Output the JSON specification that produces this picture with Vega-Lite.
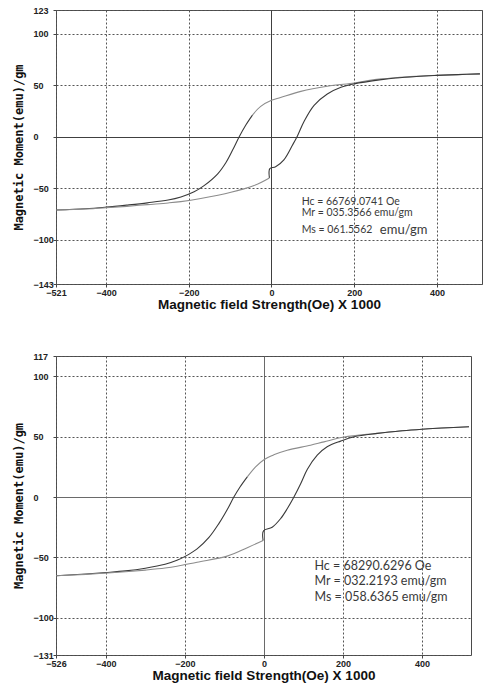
{
  "$schema": "https://vega.github.io/schema/vega-lite/v6.json",
  "background": "white",
  "padding": {"left": 11, "top": 5, "right": 4, "bottom": 2},
  "spacing": 40,
  "config": {
    "view": {"stroke": "#4a4a4a", "strokeWidth": 1},
    "axis": {
      "domain": false,
      "labelFont": "Liberation Sans",
      "labelFontWeight": "bold",
      "labelFontSize": 9,
      "labelColor": "#222222",
      "labelOverlap": false,
      "labelFlush": false,
      "tickColor": "#444444",
      "tickSize": 3,
      "gridOpacity": 1,
      "gridWidth": 1,
      "titleColor": "#111111",
      "titleFontWeight": "bold"
    },
    "axisX": {"titleFont": "Liberation Sans", "titleFontSize": 13.5, "titlePadding": 0, "labelPadding": 1},
    "axisY": {"titleFont": "DejaVu Sans Mono", "titleFontSize": 12, "titlePadding": 8, "labelAlign": "left", "labelPadding": 20}
  },
  "datasets": {
    "p1": [
      {"seg": "U1", "tone": "light", "ord": 1, "H": 504, "M": 61.0},
      {"seg": "U1", "tone": "light", "ord": 2, "H": 450, "M": 60.3},
      {"seg": "U1", "tone": "light", "ord": 3, "H": 400, "M": 59.6},
      {"seg": "U1", "tone": "light", "ord": 4, "H": 350, "M": 58.6},
      {"seg": "U1", "tone": "light", "ord": 5, "H": 300, "M": 57.3},
      {"seg": "U1", "tone": "light", "ord": 6, "H": 266, "M": 56.1},
      {"seg": "U1", "tone": "light", "ord": 7, "H": 230, "M": 54.2},
      {"seg": "U1", "tone": "light", "ord": 8, "H": 200, "M": 52.2},
      {"seg": "U1", "tone": "light", "ord": 9, "H": 135, "M": 49.0},
      {"seg": "U1", "tone": "light", "ord": 10, "H": 71, "M": 44.0},
      {"seg": "U1", "tone": "light", "ord": 11, "H": 22, "M": 38.0},
      {"seg": "U1", "tone": "light", "ord": 12, "H": 0, "M": 35.3},
      {"seg": "U1", "tone": "light", "ord": 13, "H": -26, "M": 29.4},
      {"seg": "U1", "tone": "light", "ord": 14, "H": -46, "M": 21.0},
      {"seg": "U2", "tone": "dark", "ord": 1, "H": -46, "M": 21.0},
      {"seg": "U2", "tone": "dark", "ord": 2, "H": -62, "M": 11.4},
      {"seg": "U2", "tone": "dark", "ord": 3, "H": -78, "M": 0},
      {"seg": "U2", "tone": "dark", "ord": 4, "H": -94, "M": -13},
      {"seg": "U2", "tone": "dark", "ord": 5, "H": -110, "M": -25},
      {"seg": "U2", "tone": "dark", "ord": 6, "H": -130, "M": -36},
      {"seg": "U2", "tone": "dark", "ord": 7, "H": -163, "M": -47.5},
      {"seg": "U2", "tone": "dark", "ord": 8, "H": -187, "M": -53.5},
      {"seg": "U2", "tone": "dark", "ord": 9, "H": -219, "M": -58.5},
      {"seg": "U2", "tone": "dark", "ord": 10, "H": -250, "M": -61.5},
      {"seg": "U2", "tone": "dark", "ord": 11, "H": -300, "M": -64.2},
      {"seg": "U2", "tone": "dark", "ord": 12, "H": -350, "M": -66.4},
      {"seg": "U2", "tone": "dark", "ord": 13, "H": -400, "M": -68.4},
      {"seg": "U2", "tone": "dark", "ord": 14, "H": -450, "M": -70},
      {"seg": "U2", "tone": "dark", "ord": 15, "H": -521, "M": -71.2},
      {"seg": "L1", "tone": "light", "ord": 1, "H": -521, "M": -71.2},
      {"seg": "L1", "tone": "light", "ord": 2, "H": -450, "M": -70.2},
      {"seg": "L1", "tone": "light", "ord": 3, "H": -400, "M": -69.0},
      {"seg": "L1", "tone": "light", "ord": 4, "H": -350, "M": -67.6},
      {"seg": "L1", "tone": "light", "ord": 5, "H": -300, "M": -65.9},
      {"seg": "L1", "tone": "light", "ord": 6, "H": -250, "M": -64.3},
      {"seg": "L1", "tone": "light", "ord": 7, "H": -219, "M": -63.0},
      {"seg": "L1", "tone": "light", "ord": 8, "H": -171, "M": -60.0},
      {"seg": "L1", "tone": "light", "ord": 9, "H": -98, "M": -54.0},
      {"seg": "L1", "tone": "light", "ord": 10, "H": -42, "M": -47.4},
      {"seg": "L1", "tone": "light", "ord": 11, "H": -5, "M": -40.0},
      {"seg": "L2", "tone": "dark", "ord": 1, "H": -5, "M": -40.0},
      {"seg": "L2", "tone": "dark", "ord": 2, "H": -4, "M": -31},
      {"seg": "L2", "tone": "dark", "ord": 3, "H": 10, "M": -29.2},
      {"seg": "L2", "tone": "dark", "ord": 4, "H": 30, "M": -22.5},
      {"seg": "L2", "tone": "dark", "ord": 5, "H": 51, "M": -8},
      {"seg": "L2", "tone": "dark", "ord": 6, "H": 63, "M": 1},
      {"seg": "L2", "tone": "dark", "ord": 7, "H": 79, "M": 15},
      {"seg": "L2", "tone": "dark", "ord": 8, "H": 103, "M": 30.5},
      {"seg": "L2", "tone": "dark", "ord": 9, "H": 135, "M": 41.5},
      {"seg": "L2", "tone": "dark", "ord": 10, "H": 168, "M": 48},
      {"seg": "L2", "tone": "dark", "ord": 11, "H": 200, "M": 51.3},
      {"seg": "L2", "tone": "dark", "ord": 12, "H": 266, "M": 55.4},
      {"seg": "L2", "tone": "dark", "ord": 13, "H": 300, "M": 57.0},
      {"seg": "L2", "tone": "dark", "ord": 14, "H": 350, "M": 58.5},
      {"seg": "L2", "tone": "dark", "ord": 15, "H": 400, "M": 59.5},
      {"seg": "L2", "tone": "dark", "ord": 16, "H": 450, "M": 60.3},
      {"seg": "L2", "tone": "dark", "ord": 17, "H": 504, "M": 61.0}
    ],
    "p2": [
      {"seg": "U1", "tone": "light", "ord": 1, "H": 519, "M": 58.3},
      {"seg": "U1", "tone": "light", "ord": 2, "H": 450, "M": 57.3},
      {"seg": "U1", "tone": "light", "ord": 3, "H": 400, "M": 56.3},
      {"seg": "U1", "tone": "light", "ord": 4, "H": 350, "M": 55.0},
      {"seg": "U1", "tone": "light", "ord": 5, "H": 287, "M": 52.8},
      {"seg": "U1", "tone": "light", "ord": 6, "H": 203, "M": 49.8},
      {"seg": "U1", "tone": "light", "ord": 7, "H": 152, "M": 45.8},
      {"seg": "U1", "tone": "light", "ord": 8, "H": 118, "M": 43.0},
      {"seg": "U1", "tone": "light", "ord": 9, "H": 59, "M": 38.8},
      {"seg": "U1", "tone": "light", "ord": 10, "H": 25, "M": 35.0},
      {"seg": "U1", "tone": "light", "ord": 11, "H": 0, "M": 31.0},
      {"seg": "U1", "tone": "light", "ord": 12, "H": -21, "M": 25.0},
      {"seg": "U1", "tone": "light", "ord": 13, "H": -42, "M": 16.7},
      {"seg": "U2", "tone": "dark", "ord": 1, "H": -42, "M": 16.7},
      {"seg": "U2", "tone": "dark", "ord": 2, "H": -60, "M": 8.5},
      {"seg": "U2", "tone": "dark", "ord": 3, "H": -76, "M": 0},
      {"seg": "U2", "tone": "dark", "ord": 4, "H": -93, "M": -10.5},
      {"seg": "U2", "tone": "dark", "ord": 5, "H": -114, "M": -22.0},
      {"seg": "U2", "tone": "dark", "ord": 6, "H": -139, "M": -33.5},
      {"seg": "U2", "tone": "dark", "ord": 7, "H": -169, "M": -43.0},
      {"seg": "U2", "tone": "dark", "ord": 8, "H": -198, "M": -49.0},
      {"seg": "U2", "tone": "dark", "ord": 9, "H": -220, "M": -52.5},
      {"seg": "U2", "tone": "dark", "ord": 10, "H": -250, "M": -55.8},
      {"seg": "U2", "tone": "dark", "ord": 11, "H": -300, "M": -59.0},
      {"seg": "U2", "tone": "dark", "ord": 12, "H": -350, "M": -61.2},
      {"seg": "U2", "tone": "dark", "ord": 13, "H": -400, "M": -62.6},
      {"seg": "U2", "tone": "dark", "ord": 14, "H": -450, "M": -63.8},
      {"seg": "U2", "tone": "dark", "ord": 15, "H": -526, "M": -65.3},
      {"seg": "L1", "tone": "light", "ord": 1, "H": -526, "M": -65.3},
      {"seg": "L1", "tone": "light", "ord": 2, "H": -450, "M": -64.1},
      {"seg": "L1", "tone": "light", "ord": 3, "H": -400, "M": -63.1},
      {"seg": "L1", "tone": "light", "ord": 4, "H": -350, "M": -62.0},
      {"seg": "L1", "tone": "light", "ord": 5, "H": -300, "M": -60.6},
      {"seg": "L1", "tone": "light", "ord": 6, "H": -250, "M": -58.9},
      {"seg": "L1", "tone": "light", "ord": 7, "H": -220, "M": -57.4},
      {"seg": "L1", "tone": "light", "ord": 8, "H": -169, "M": -54.0},
      {"seg": "L1", "tone": "light", "ord": 9, "H": -93, "M": -49.0},
      {"seg": "L1", "tone": "light", "ord": 10, "H": -42, "M": -42.0},
      {"seg": "L1", "tone": "light", "ord": 11, "H": -2, "M": -36.0},
      {"seg": "L2", "tone": "dark", "ord": 1, "H": -2, "M": -36.0},
      {"seg": "L2", "tone": "dark", "ord": 2, "H": -1, "M": -28.0},
      {"seg": "L2", "tone": "dark", "ord": 3, "H": 21, "M": -25.0},
      {"seg": "L2", "tone": "dark", "ord": 4, "H": 42, "M": -18.0},
      {"seg": "L2", "tone": "dark", "ord": 5, "H": 59, "M": -9.7},
      {"seg": "L2", "tone": "dark", "ord": 6, "H": 76, "M": 0},
      {"seg": "L2", "tone": "dark", "ord": 7, "H": 93, "M": 11.0},
      {"seg": "L2", "tone": "dark", "ord": 8, "H": 110, "M": 23.0},
      {"seg": "L2", "tone": "dark", "ord": 9, "H": 135, "M": 34.7},
      {"seg": "L2", "tone": "dark", "ord": 10, "H": 160, "M": 41.7},
      {"seg": "L2", "tone": "dark", "ord": 11, "H": 194, "M": 46.4},
      {"seg": "L2", "tone": "dark", "ord": 12, "H": 228, "M": 50.0},
      {"seg": "L2", "tone": "dark", "ord": 13, "H": 287, "M": 52.8},
      {"seg": "L2", "tone": "dark", "ord": 14, "H": 350, "M": 55.0},
      {"seg": "L2", "tone": "dark", "ord": 15, "H": 400, "M": 56.3},
      {"seg": "L2", "tone": "dark", "ord": 16, "H": 450, "M": 57.3},
      {"seg": "L2", "tone": "dark", "ord": 17, "H": 519, "M": 58.3}
    ],
    "t1": [
      {"part": "small", "H": 73, "M": -63.4, "label": "Hc = 66769.0741 Oe"},
      {"part": "small", "H": 73, "M": -74.2, "label": "Mr = 035.3566 emu/gm"},
      {"part": "small", "H": 73, "M": -90.5, "label": "Ms = 061.5562"},
      {"part": "big", "H": 262, "M": -90.5, "label": "emu/gm"}
    ],
    "t2": [
      {"H": 128, "M": -57, "label": "Hc = 68290.6296 Oe"},
      {"H": 128, "M": -70, "label": "Mr = 032.2193 emu/gm"},
      {"H": 128, "M": -83.3, "label": "Ms = 058.6365 emu/gm"}
    ]
  },
  "vconcat": [
    {
      "width": 426,
      "height": 274,
      "encoding": {
        "x": {
          "field": "H", "type": "quantitative",
          "scale": {"domain": [-521, 509], "nice": false, "zero": false},
          "axis": {
            "title": "Magnetic field Strength(Oe) X 1000",
            "values": [-521, -400, -200, 0, 200, 400],
            "gridDash": {"condition": {"test": "datum.value === 0", "value": []}, "value": [2, 2]},
            "gridColor": {"condition": {"test": "datum.value === 0", "value": "#404040"}, "value": "#555555"}
          }
        },
        "y": {
          "field": "M", "type": "quantitative",
          "scale": {"domain": [-143, 123], "nice": false, "zero": false},
          "axis": {
            "title": "Magnetic Moment(emu)/gm",
            "values": [-143, -100, -50, 0, 50, 100, 123],
            "gridDash": {"condition": {"test": "datum.value === 0", "value": []}, "value": [2, 2]},
            "gridColor": {"condition": {"test": "datum.value === 0", "value": "#404040"}, "value": "#555555"}
          }
        }
      },
      "layer": [
        {
          "data": {"name": "p1"},
          "mark": {"type": "line", "interpolate": "catmull-rom", "strokeWidth": 1.1},
          "encoding": {
            "color": {"field": "tone", "type": "nominal", "scale": {"domain": ["light", "dark"], "range": ["#8c8c8c", "#3a3a3a"]}, "legend": null},
            "detail": {"field": "seg"},
            "order": {"field": "ord", "type": "quantitative"}
          }
        },
        {
          "data": {"name": "t1"},
          "transform": [{"filter": "datum.part === 'small'"}],
          "mark": {"type": "text", "align": "left", "baseline": "middle", "font": "Lato", "fontSize": 10.5, "color": "#3a3a3a"},
          "encoding": {"text": {"field": "label"}}
        },
        {
          "data": {"name": "t1"},
          "transform": [{"filter": "datum.part === 'big'"}],
          "mark": {"type": "text", "align": "left", "baseline": "middle", "font": "Lato", "fontSize": 13, "color": "#3a3a3a"},
          "encoding": {"text": {"field": "label"}}
        }
      ]
    },
    {
      "width": 415,
      "height": 299,
      "encoding": {
        "x": {
          "field": "H", "type": "quantitative",
          "scale": {"domain": [-526, 524], "nice": false, "zero": false},
          "axis": {
            "title": "Magnetic field Strength(Oe) X 1000",
            "values": [-526, -400, -200, 0, 200, 400],
            "gridDash": {"condition": {"test": "datum.value === 0", "value": []}, "value": [2, 2]},
            "gridColor": {"condition": {"test": "datum.value === 0", "value": "#6a6a6a"}, "value": "#555555"}
          }
        },
        "y": {
          "field": "M", "type": "quantitative",
          "scale": {"domain": [-131, 117], "nice": false, "zero": false},
          "axis": {
            "title": "Magnetic Moment(emu)/gm",
            "values": [-131, -100, -50, 0, 50, 100, 117],
            "gridDash": {"condition": {"test": "datum.value === 0", "value": []}, "value": [2, 2]},
            "gridColor": {"condition": {"test": "datum.value === 0", "value": "#6a6a6a"}, "value": "#555555"}
          }
        }
      },
      "layer": [
        {
          "data": {"name": "p2"},
          "mark": {"type": "line", "interpolate": "catmull-rom", "strokeWidth": 1.1},
          "encoding": {
            "color": {"field": "tone", "type": "nominal", "scale": {"domain": ["light", "dark"], "range": ["#8c8c8c", "#3a3a3a"]}, "legend": null},
            "detail": {"field": "seg"},
            "order": {"field": "ord", "type": "quantitative"}
          }
        },
        {
          "data": {"name": "t2"},
          "mark": {"type": "text", "align": "left", "baseline": "middle", "font": "Lato", "fontSize": 12.5, "color": "#3a3a3a"},
          "encoding": {"text": {"field": "label"}}
        }
      ]
    }
  ]
}
